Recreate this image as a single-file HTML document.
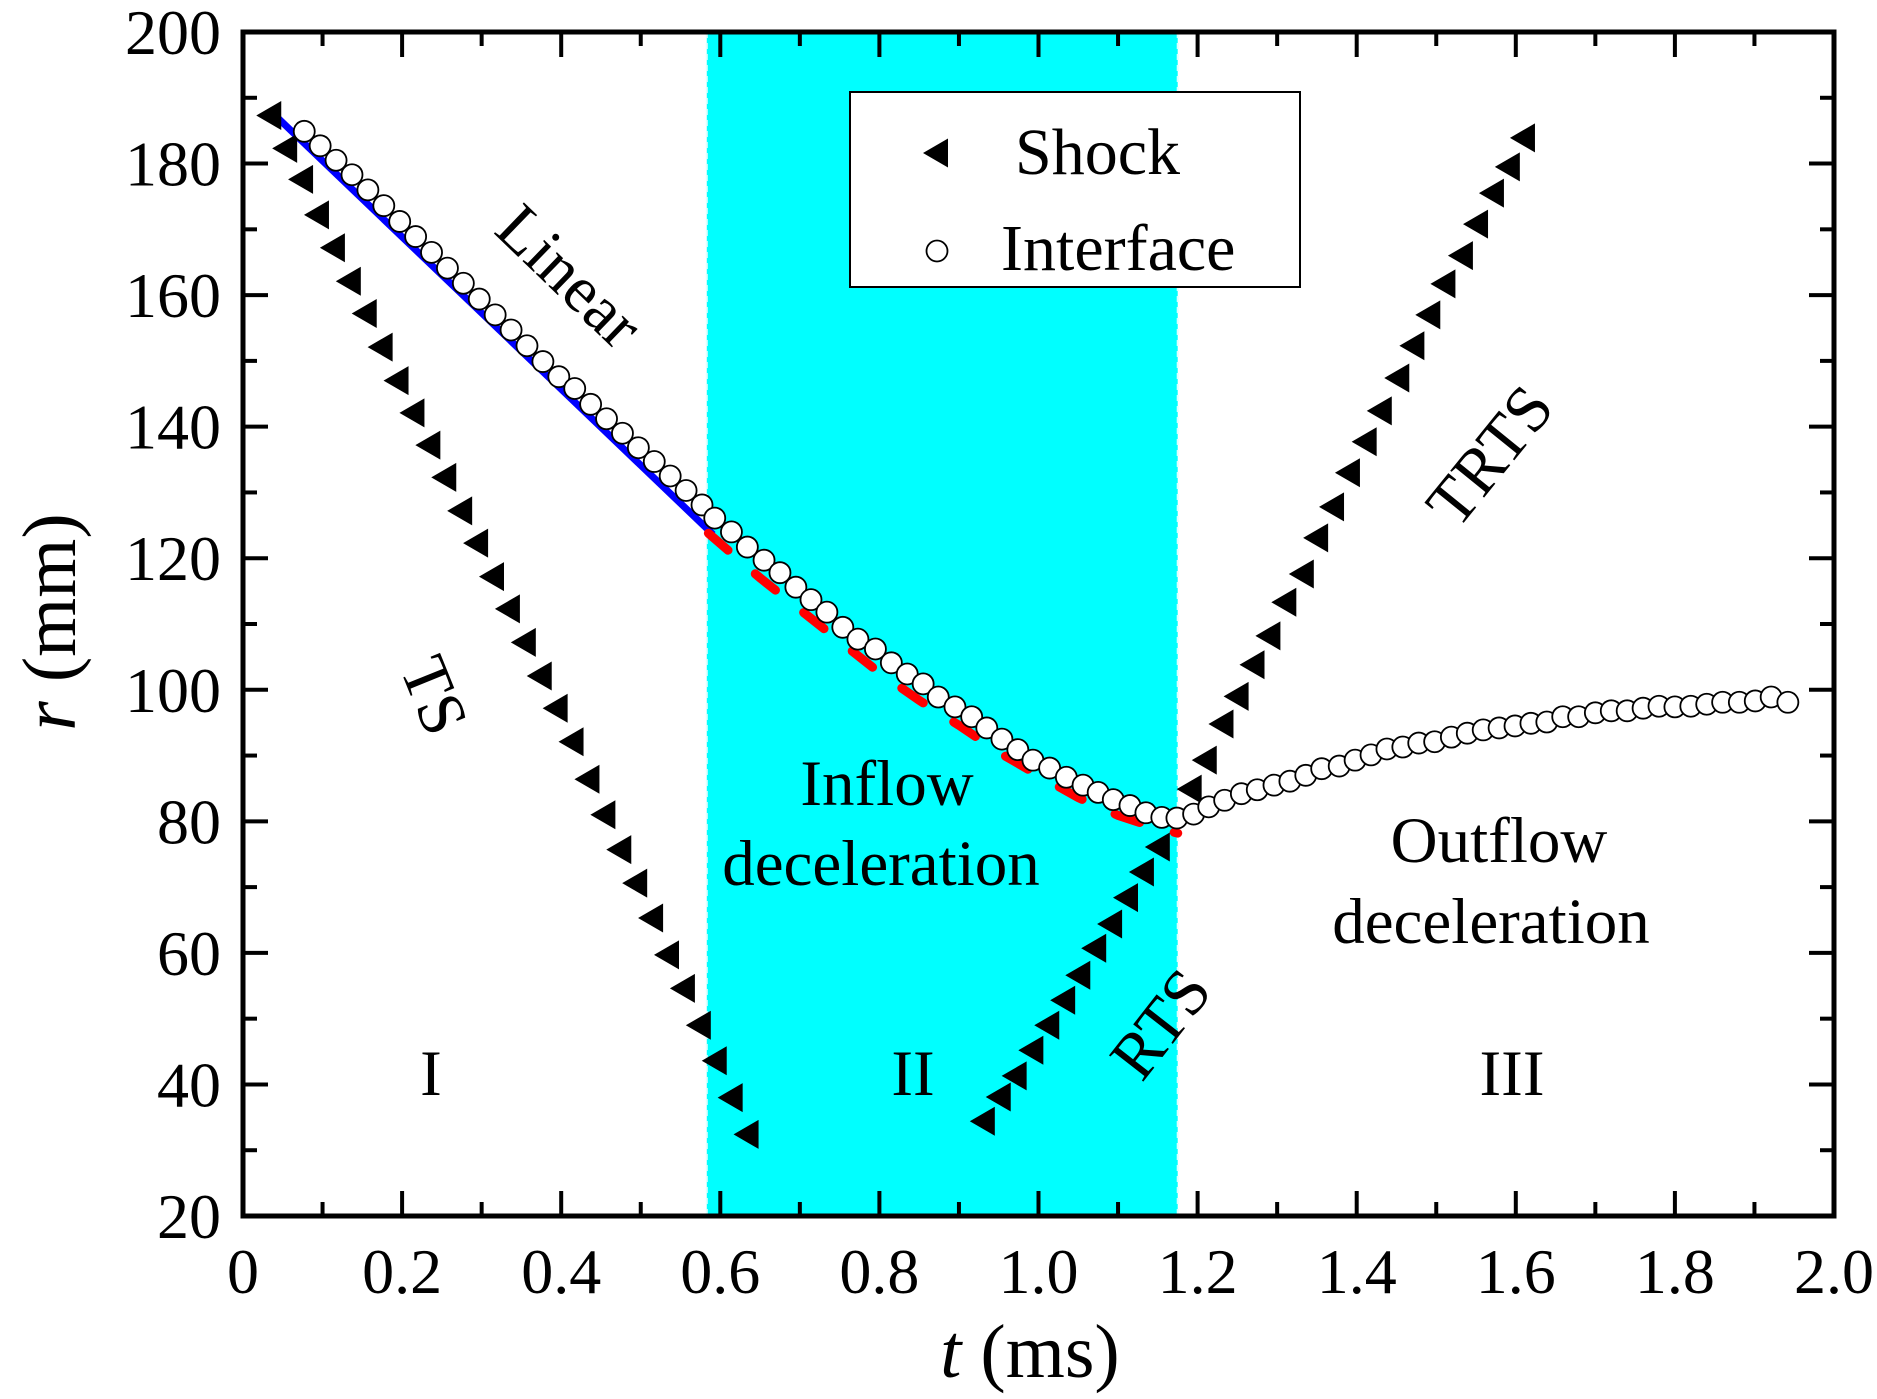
<!DOCTYPE html>
<html><head><meta charset="utf-8"><style>
html,body{margin:0;padding:0;background:#fff;}
svg{display:block;font-family:"Liberation Serif","DejaVu Serif",serif;}
</style></head><body>
<svg id="chart" width="1877" height="1399" viewBox="0 0 1877 1399" xmlns="http://www.w3.org/2000/svg">
<rect x="0" y="0" width="1877" height="1399" fill="#fff"/>
<g id="region"></g>
<g id="ticks"></g>
<g id="fits"></g>
<g id="marks"></g>
<g id="labels"></g>
<rect x="243" y="32" width="1591" height="1184" fill="none" stroke="#000" stroke-width="5"/>
<g>
<rect x="850" y="92" width="450" height="195" fill="#fff" stroke="#000" stroke-width="2"/>
<polygon points="923,153 948,138.5 948,167.5" fill="#000"/>
<text x="1015" y="174" font-size="66">Shock</text>
<circle cx="937" cy="251" r="10.5" fill="#fff" stroke="#000" stroke-width="1.8"/>
<text x="1001" y="270" font-size="66">Interface</text>
</g>
<text x="1030" y="1377" font-size="76" text-anchor="middle"><tspan font-style="italic">t</tspan> (ms)</text>
<text transform="translate(75,622) rotate(-90)" font-size="76" text-anchor="middle"><tspan font-style="italic">r</tspan> (mm)</text>
<text transform="translate(565,281) rotate(44)" font-size="66" text-anchor="middle" dominant-baseline="middle">Linear</text>
<text transform="translate(428,698) rotate(68)" font-size="66" text-anchor="middle" dominant-baseline="middle">TS</text>
<text transform="translate(1166,1028) rotate(-52)" font-size="66" text-anchor="middle" dominant-baseline="middle">RTS</text>
<text transform="translate(1495,460) rotate(-51)" font-size="66" text-anchor="middle" dominant-baseline="middle">TRTS</text>
<text x="887" y="805" font-size="65" text-anchor="middle">Inflow</text>
<text x="881" y="885" font-size="65" text-anchor="middle">deceleration</text>
<text x="1499" y="862" font-size="65" text-anchor="middle">Outflow</text>
<text x="1491" y="943" font-size="65" text-anchor="middle">deceleration</text>
<text x="431" y="1095" font-size="65" text-anchor="middle">I</text>
<text x="913" y="1095" font-size="65" text-anchor="middle">II</text>
<text x="1512" y="1095" font-size="65" text-anchor="middle">III</text>
</svg>
<script>
const xTicks = [0,0.2,0.4,0.6,0.8,1.0,1.2,1.4,1.6,1.8,2.0];
const xTickLabels = ["0","0.2","0.4","0.6","0.8","1.0","1.2","1.4","1.6","1.8","2.0"];
const yTicks = [20,40,60,80,100,120,140,160,180,200];
const regionBounds = [0.583, 1.175];
const tsT = [0.033,0.053,0.073,0.093,0.113,0.133,0.153,0.173,0.193,0.213,0.233,0.253,0.273,0.293,0.313,0.333,0.353,0.373,0.393,0.413,0.433,0.453,0.473,0.493,0.513,0.533,0.553,0.573,0.593,0.613,0.633];
const tsR = [187.3,182.3,177.6,172.2,167.2,162.1,157.2,152.1,147.0,142.1,137.2,132.3,127.2,122.3,117.2,112.3,107.2,102.1,97.2,92.1,86.4,81.0,75.7,70.6,65.3,59.7,54.6,49.0,43.6,38.0,32.4];
const rtsT = [0.930,0.950,0.970,0.991,1.011,1.031,1.050,1.070,1.090,1.110,1.130,1.150];
const rtsR = [34.4,38.1,41.3,45.2,49.0,52.8,56.6,60.7,64.4,68.4,72.3,76.1];
const trtsT = [1.190,1.209,1.230,1.249,1.269,1.289,1.309,1.331,1.349,1.369,1.389,1.410,1.429,1.451,1.470,1.490,1.509,1.531,1.550,1.570,1.590,1.609];
const trtsR = [84.9,89.3,94.8,99.0,103.8,108.2,113.3,117.6,123.1,127.8,133.0,137.7,142.4,147.4,152.3,157.0,161.7,166.0,170.8,175.5,179.5,183.9];
const ifT = [0.077,0.097,0.117,0.137,0.157,0.177,0.197,0.217,0.237,0.257,0.277,0.297,0.317,0.337,0.357,0.377,0.397,0.417,0.437,0.457,0.477,0.497,0.517,0.537,0.557,0.577,
 0.593,0.614,0.634,0.655,0.675,0.695,0.714,0.734,0.754,0.773,0.795,0.815,0.835,0.855,0.874,0.895,0.916,
 0.935,0.954,0.974,0.993,1.014,1.035,1.056,1.075,1.094,1.115,1.135,1.155,1.174,
 1.195,1.214,1.234,1.255,1.275,1.296,1.316,1.336,1.356,1.378,1.398,1.418,1.438,1.458,1.478,1.498,1.519,1.539,1.559,1.579,1.599,1.619,1.639,1.659,1.679,1.700,1.720,1.740,1.760,1.780,1.800,1.820,1.840,1.860,1.881,1.901,1.921,1.942];
const ifR = [184.9,182.7,180.5,178.3,176.0,173.6,171.2,168.9,166.5,164.1,161.8,159.4,157.0,154.7,152.3,149.9,147.6,145.8,143.4,141.2,139.0,136.8,134.7,132.5,130.3,128.1,
 126.1,124.0,121.7,119.7,117.8,115.6,113.7,111.8,109.5,107.7,106.2,104.1,102.4,100.9,98.9,97.4,95.9,
 94.2,92.5,90.9,89.3,88.1,86.7,85.5,84.4,83.3,82.4,81.3,80.6,80.5,
 81.1,82.2,83.2,84.2,84.8,85.5,86.1,87.0,88.0,88.4,89.3,90.1,91.0,91.3,91.9,92.1,92.8,93.4,93.9,94.2,94.5,94.9,95.1,95.9,95.9,96.5,96.8,96.8,97.2,97.5,97.4,97.5,97.8,98.1,98.1,98.3,98.9,98.1];
const linT = [0.044,0.591];
const linR = [186.9,123.6];
const fitT = [0.585,0.65,0.7,0.75,0.8,0.85,0.9,0.95,1.0,1.05,1.1,1.14,1.175];
const fitR = [123.8,117.0,112.2,107.4,102.6,98.4,94.6,90.5,87.0,83.6,80.9,79.3,78.2];

const NS = "http://www.w3.org/2000/svg";
const X0=243, X1=1834, Y0=1216, Y1=32;
function sx(t){return X0+(t-0)/(2-0)*(X1-X0);}
function sy(r){return Y0-(r-20)/(200-20)*(Y0-Y1);}
function mk(tag,attrs,parent){const e=document.createElementNS(NS,tag);for(const k in attrs)e.setAttribute(k,attrs[k]);parent.appendChild(e);return e;}

const region=document.getElementById('region');
const rr=mk('rect',{x:sx(regionBounds[0]),y:Y1,width:sx(regionBounds[1])-sx(regionBounds[0]),height:Y0-Y1,fill:'#00FFFF'},region);


for(const b of regionBounds){
 const l=mk('line',{x1:sx(b),x2:sx(b),y1:Y1,y2:Y0,stroke:'#dff',"stroke-width":2,"stroke-dasharray":"6 5"},region);
 
 
}

const ticks=document.getElementById('ticks');
const labels=document.getElementById('labels');
for(let i=0;i<=20;i++){
 const t=i*0.1, major=(i%2===0), L=major?25:14;
 const x=sx(t);
 const a=mk('line',{x1:x,x2:x,y1:Y0,y2:Y0-L,stroke:'#000',"stroke-width":4},ticks);
 
 
 const b=mk('line',{x1:x,x2:x,y1:Y1,y2:Y1+L,stroke:'#000',"stroke-width":4},ticks);
 
 
}
for(let v=20;v<=200;v+=10){
 const major=(v%20===0), L=major?25:14;
 const y=sy(v);
 const a=mk('line',{x1:X0,x2:X0+L,y1:y,y2:y,stroke:'#000',"stroke-width":4},ticks);
 
 
 const b=mk('line',{x1:X1,x2:X1-L,y1:y,y2:y,stroke:'#000',"stroke-width":4},ticks);
 
 
}
xTicks.forEach((t,i)=>{
 const e=mk('text',{x:sx(t),y:1293,"font-size":64,"text-anchor":"middle"},labels);
 e.textContent=xTickLabels[i];
 
 
});
yTicks.forEach(v=>{
 const e=mk('text',{x:221,y:sy(v)+22,"font-size":64,"text-anchor":"end"},labels);
 e.textContent=String(v);
 
 
});

const fits=document.getElementById('fits');
const lin=mk('polyline',{points:linT.map((t,i)=>sx(t)+','+sy(linR[i])).join(' '),fill:'none',stroke:'#0000FF',"stroke-width":7},fits);


const fit=mk('polyline',{points:fitT.map((t,i)=>sx(t)+','+sy(fitR[i])).join(' '),fill:'none',stroke:'#FF0000',"stroke-width":9,"stroke-linecap":"round","stroke-dasharray":"26 36"},fits);



const marks=document.getElementById('marks');
function tri(t,r,name){
 const x=sx(t),y=sy(r);
 const p=mk('polygon',{points:(x-13)+','+y+' '+(x+12)+','+(y-14.5)+' '+(x+12)+','+(y+14.5),fill:'#000'},marks);
 
 
}
tsT.forEach((t,i)=>tri(t,tsR[i],'ts-shock-point'));
rtsT.forEach((t,i)=>tri(t,rtsR[i],'rts-shock-point'));
trtsT.forEach((t,i)=>tri(t,trtsR[i],'trts-shock-point'));
ifT.forEach((t,i)=>{
 const c=mk('circle',{cx:sx(t),cy:sy(ifR[i]),r:10.5,fill:'#fff',stroke:'#000',"stroke-width":1.8},marks);
 
 
});
</script>
</body></html>
